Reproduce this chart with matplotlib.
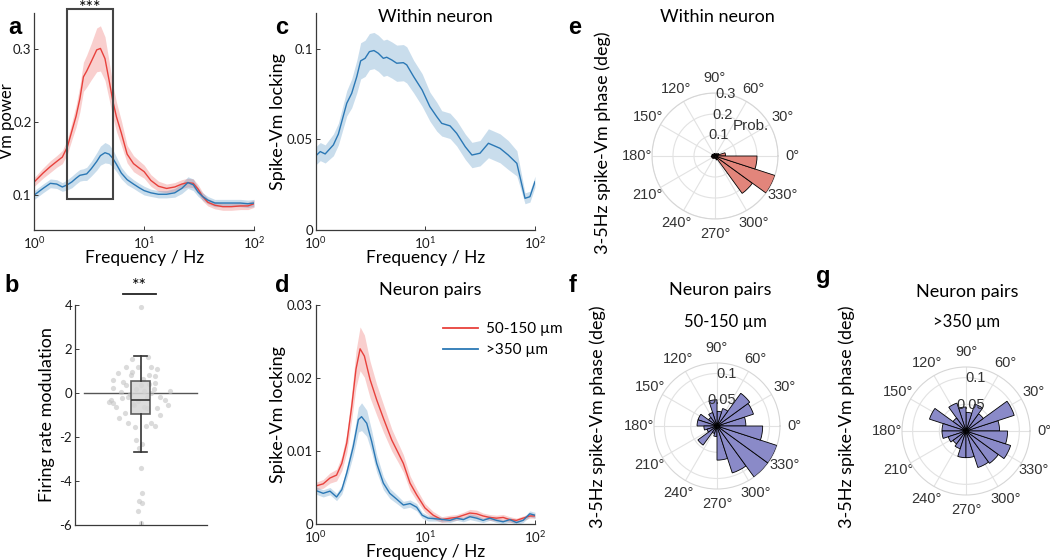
import numpy as np
import matplotlib
matplotlib.use('Agg')
import matplotlib.pyplot as plt
import matplotlib.patches as mpatches

plt.rcParams['font.family'] = ['Lato', 'DejaVu Sans']
plt.rcParams['mathtext.default'] = 'regular'
plt.rcParams['axes.unicode_minus'] = False

W, H = 1050, 560
RED = '#e8413c'
BLUE = '#2b78b5'
AX_COL = '#3a3a3a'
POLAR_RED = '#e2857b'
POLAR_BLUE = '#8a8ac8'

# ---- panel a: Vm power spectra -------------------------------------------
a_freq = [1, 1.2, 1.4, 1.6, 1.8, 2.0, 2.2, 2.4, 2.6, 2.8, 3.0, 3.3, 3.7, 4.0, 4.4,
          4.8, 5.2, 5.6, 6.2, 7.0, 8.0, 9.0, 10, 11.5, 13.5, 16, 19, 22, 25, 28,
          31, 34, 38, 44, 52, 62, 75, 88, 100]
a_red = [0.118, 0.130, 0.139, 0.146, 0.152, 0.166, 0.188, 0.208, 0.232, 0.262,
         0.270, 0.283, 0.299, 0.301, 0.287, 0.257, 0.228, 0.207, 0.185, 0.156,
         0.143, 0.137, 0.132, 0.120, 0.112, 0.109, 0.111, 0.115, 0.117, 0.116,
         0.108, 0.098, 0.090, 0.086, 0.084, 0.084, 0.085, 0.085, 0.088]
a_red_sem = [0.006, 0.007, 0.008, 0.008, 0.009, 0.010, 0.012, 0.015, 0.018, 0.020,
             0.022, 0.025, 0.030, 0.031, 0.030, 0.026, 0.022, 0.020, 0.017, 0.012,
             0.011, 0.010, 0.009, 0.008, 0.007, 0.006, 0.006, 0.006, 0.006, 0.006,
             0.006, 0.006, 0.005, 0.005, 0.005, 0.005, 0.005, 0.005, 0.005]
a_blue = [0.100, 0.109, 0.116, 0.115, 0.111, 0.114, 0.118, 0.123, 0.127, 0.128,
          0.129, 0.136, 0.146, 0.154, 0.158, 0.156, 0.150, 0.142, 0.130, 0.121,
          0.115, 0.110, 0.106, 0.103, 0.101, 0.101, 0.103, 0.109, 0.117, 0.114,
          0.104, 0.098, 0.093, 0.089, 0.089, 0.089, 0.089, 0.088, 0.089]
a_blue_sem = [0.006, 0.006, 0.006, 0.006, 0.006, 0.007, 0.008, 0.008, 0.008, 0.008,
              0.009, 0.010, 0.012, 0.013, 0.014, 0.013, 0.012, 0.010, 0.008, 0.007,
              0.006, 0.006, 0.006, 0.005, 0.005, 0.005, 0.006, 0.007, 0.008, 0.008,
              0.006, 0.005, 0.005, 0.005, 0.005, 0.005, 0.005, 0.005, 0.005]
BAND_HZ = (2.0, 5.2)

# ---- panel b: firing rate modulation -------------------------------------
b_x = [1.00, 0.86, 1.11, 0.78, 0.66, 0.86, 0.95, 1.16, 1.25, 1.22, 0.58, 0.57,
       1.22, 1.29, 1.44, 1.41, 0.54, 0.52, 0.58, 0.63, 0.71, 0.76, 0.67, 0.80,
       0.91, 1.08, 1.15, 1.22, 1.29, 1.24, 1.10, 1.05, 0.90, 0.92, 0.97, 1.02,
       1.00, 1.02, 0.97, 1.02, 0.96, 1.00, 1.00, 0.92, 1.05, 0.83, 1.10, 0.95,
       0.88, 1.13, 1.20, 0.78, 0.85, 1.13, 1.03, 0.73, 1.15, 0.80, 1.37, 0.70]
b_y = [3.92, 1.53, 1.62, 1.20, 0.92, 0.97, 1.17, 1.20, 1.08, 0.77, 0.59, 0.21,
       0.47, -0.20, 0.10, -0.55, -0.32, -0.40, -0.47, -0.62, -0.21, -0.92, -1.12, -1.35,
       -1.53, -1.50, -1.38, -1.50, -1.00, -0.70, -0.70, -0.62, -0.55, -2.14, -2.50, -2.33,
       -3.40, -4.56, -4.90, -5.00, -5.35, -5.92, 0.35, 0.20, 0.10, -0.05, -0.20, -0.35,
       -0.50, 0.40, 0.20, 0.35, 0.80, 0.80, 0.65, 0.50, 0.00, -0.20, -0.30, 0.05]
b_stats = dict(med=-0.3, q1=-0.95, q3=0.55, whislo=-2.7, whishi=1.7, fliers=[])

# ---- panel c: spike-Vm locking within neuron -----------------------------
c_freq = [1, 1.10, 1.22, 1.45, 1.61, 1.92, 2.13, 2.37, 2.57, 2.82, 3.09, 3.40, 3.72,
          4.14, 4.44, 4.94, 5.48, 6.30, 6.76, 7.82, 9.35, 11.0, 12.7, 14.1, 16.8,
          19.3, 23.1, 26.6, 31.5, 37.6, 48.0, 57.0, 68.3, 81.1, 89.9, 100]
c_mean = [0.0409, 0.0433, 0.0420, 0.0470, 0.0530, 0.0700, 0.0755, 0.0847, 0.0934,
          0.0948, 0.0985, 0.0991, 0.0976, 0.0948, 0.0954, 0.0939, 0.0921, 0.0924,
          0.0912, 0.0847, 0.0773, 0.0681, 0.0626, 0.0589, 0.0575, 0.0534, 0.0460,
          0.0414, 0.0424, 0.0479, 0.0451, 0.0414, 0.0368, 0.0175, 0.0184, 0.0267]
c_sem = [0.005, 0.005, 0.005, 0.006, 0.006, 0.007, 0.008, 0.009, 0.010, 0.010,
         0.010, 0.010, 0.010, 0.010, 0.010, 0.010, 0.010, 0.010, 0.010, 0.009,
         0.009, 0.008, 0.008, 0.007, 0.007, 0.007, 0.007, 0.007, 0.007, 0.008,
         0.008, 0.008, 0.007, 0.003, 0.003, 0.003]

# ---- panel d: spike-Vm locking, neuron pairs -----------------------------
d_freq_red = [1, 1.17, 1.35, 1.55, 1.73, 1.92, 2.13, 2.33, 2.54, 2.78, 3.13, 3.60,
              4.14, 4.94, 5.67, 6.30, 7.25, 8.33, 9.92, 11.8, 14.1, 16.8, 19.3,
              22.2, 25.5, 29.3, 33.6, 38.7, 44.5, 51.2, 58.9, 67.7, 77.9, 89.6, 100]
d_red = [0.0052, 0.0055, 0.0063, 0.0067, 0.0083, 0.0111, 0.0161, 0.0212, 0.0240,
         0.0230, 0.0198, 0.0170, 0.0145, 0.0115, 0.0097, 0.0083, 0.0056, 0.0040,
         0.0022, 0.0012, 0.0006, 0.0008, 0.0009, 0.0012, 0.0015, 0.0014, 0.0011,
         0.0009, 0.0008, 0.0009, 0.0006, 0.0005, 0.0008, 0.0011, 0.0011]
d_red_sem = [0.0005, 0.0006, 0.0007, 0.0008, 0.0010, 0.0013, 0.0018, 0.0025, 0.0030,
             0.0029, 0.0025, 0.0021, 0.0019, 0.0015, 0.0013, 0.0012, 0.0010, 0.0008,
             0.0006, 0.0005, 0.0004, 0.0004, 0.0004, 0.0004, 0.0005, 0.0005, 0.0004,
             0.0004, 0.0004, 0.0004, 0.0004, 0.0003, 0.0003, 0.0003, 0.0003]
d_freq_blue = [1, 1.17, 1.35, 1.55, 1.73, 1.92, 2.20, 2.45, 2.62, 2.92, 3.24, 3.60,
               4.14, 4.74, 5.48, 6.30, 7.25, 8.33, 9.35, 10.6, 12.7, 14.6, 16.8,
               19.3, 22.2, 25.5, 29.3, 33.6, 38.7, 44.5, 51.2, 58.9, 67.7, 77.9,
               89.6, 100]
d_blue = [0.0046, 0.0042, 0.0045, 0.0037, 0.0047, 0.0070, 0.0106, 0.0143, 0.0147,
          0.0138, 0.0113, 0.0083, 0.0056, 0.0042, 0.0034, 0.0026, 0.0028, 0.0023,
          0.0012, 0.0008, 0.0007, 0.0006, 0.0005, 0.0008, 0.0006, 0.0010, 0.0008,
          0.0005, 0.0008, 0.0005, 0.0003, 0.0006, 0.0002, 0.0005, 0.0014, 0.0012]
d_blue_sem = [0.0005, 0.0005, 0.0005, 0.0005, 0.0006, 0.0008, 0.0012, 0.0017, 0.0019,
              0.0018, 0.0015, 0.0012, 0.0009, 0.0007, 0.0006, 0.0005, 0.0005, 0.0005,
              0.0004, 0.0004, 0.0003, 0.0003, 0.0003, 0.0003, 0.0003, 0.0004, 0.0004,
              0.0003, 0.0003, 0.0003, 0.0003, 0.0003, 0.0003, 0.0003, 0.0004, 0.0004]
d_labels = ['50-150 µm', '>350 µm']

# ---- panels e-g: phase histograms, 18 deg bins starting at 0 deg ----------
BIN_DEG = 18
e_prob = [0.050, 0.020, 0.015, 0.010, 0.010, 0.012, 0.010, 0.012, 0.015, 0.015,
          0.018, 0.015, 0.015, 0.012, 0.010, 0.012, 0.020, 0.220, 0.300, 0.200]
f_prob = [0.055, 0.073, 0.077, 0.035, 0.028, 0.050, 0.027, 0.020, 0.038, 0.038,
          0.025, 0.020, 0.045, 0.015, 0.020, 0.065, 0.094, 0.120, 0.120, 0.087]
g_prob = [0.063, 0.095, 0.040, 0.053, 0.035, 0.045, 0.055, 0.030, 0.072, 0.045,
          0.045, 0.035, 0.030, 0.035, 0.050, 0.050, 0.072, 0.075, 0.088, 0.078]


def px_axes(fig, left, top, right, bottom, **kw):
    return fig.add_axes([left / W, 1 - bottom / H, (right - left) / W,
                         (bottom - top) / H], **kw)


def style_axes(ax):
    ax.spines[['top', 'right']].set_visible(False)
    for s in ['left', 'bottom']:
        ax.spines[s].set_color(AX_COL); ax.spines[s].set_linewidth(0.9)
    ax.tick_params(direction='in', length=3, width=0.7, colors=AX_COL,
                   labelsize=9.5, labelcolor='#1a1a1a')
    ax.tick_params(axis='x', pad=4)
    ax.tick_params(axis='y', pad=2)


def set_ylabel(ax, text, xfrac, size=13):
    ax.set_ylabel(text, fontsize=size)
    ax.yaxis.set_label_coords(xfrac, 0.5)
    ax.yaxis.label.set_verticalalignment('center')


def freq_axes(ax):
    ax.set_xscale('log')
    ax.set_xlim(1, 100)
    ax.xaxis.set_minor_locator(matplotlib.ticker.NullLocator())
    ax.set_xlabel('Frequency / Hz', fontsize=12.5)
    ax.xaxis.set_label_coords(0.5, -0.128)
    ax.xaxis.label.set_verticalalignment('center')
    style_axes(ax)


def band(ax, f, m, s, colour):
    m = np.array(m); s = np.array(s)
    ax.fill_between(f, m - s, m + s, color=colour, alpha=0.25, lw=0)
    ax.plot(f, m, color=colour, lw=1.0)


def panel_a(fig):
    ax = px_axes(fig, 34.3, 12.7, 254, 230)
    band(ax, a_freq, a_red, a_red_sem, RED)
    band(ax, a_freq, a_blue, a_blue_sem, BLUE)
    freq_axes(ax)
    ax.set_ylim(0.052, 0.35)
    ax.set_yticks([0.1, 0.2, 0.3])
    set_ylabel(ax, 'Vm power', -0.126, size=12)
    lo, hi = BAND_HZ
    ax.add_patch(mpatches.Rectangle((lo, 0.094), hi - lo, 0.261, fill=False,
                                    edgecolor='#444444', lw=1.5, clip_on=False, zorder=5))
    fig.text(90 / W, 1.0, '***', ha='center', va='top', fontsize=13)


def panel_b(fig):
    ax = px_axes(fig, 75, 305, 206.7, 525)
    ax.axhline(0, xmin=0.07, xmax=0.925, color='#555555', lw=1.0, zorder=1)
    ax.scatter(b_x, b_y, s=14, color='#c4c4c4', alpha=0.6, linewidths=0, zorder=2)
    ax.bxp([b_stats], positions=[1], widths=0.29, capwidths=0.2, showfliers=False,
           patch_artist=True, manage_ticks=False,
           boxprops=dict(facecolor='#d6d6d6', edgecolor='#444444', lw=1.2, alpha=0.85),
           medianprops=dict(color='#333333', lw=1.2),
           whiskerprops=dict(color='#333333', lw=1.2),
           capprops=dict(color='#333333', lw=1.2), zorder=3)
    style_axes(ax)
    ax.set_xlim(0, 2); ax.set_ylim(-6, 4)
    ax.set_xticks([1]); ax.set_xticklabels([''])
    ax.set_yticks([-6, -4, -2, 0, 2, 4])
    set_ylabel(ax, 'Firing rate modulation', -0.213)
    ax.plot([0.73, 1.23], [4.5, 4.5], color='#222222', lw=1.3, clip_on=False)
    ax.text(0.98, 4.5, '**', ha='center', va='bottom', fontsize=13, clip_on=False)


def panel_c(fig):
    ax = px_axes(fig, 315.7, 12.7, 535, 230)
    band(ax, c_freq, c_mean, c_sem, BLUE)
    freq_axes(ax)
    ax.set_ylim(0, 0.12)
    ax.set_yticks([0, 0.05, 0.1])
    ax.set_yticklabels(['0', '0.05', '0.1'])
    set_ylabel(ax, 'Spike-Vm locking', -0.172)
    fig.text(435 / W, 1 - 17 / H, 'Within neuron', ha='center', va='center', fontsize=13)


def panel_d(fig):
    ax = px_axes(fig, 315.7, 305, 535, 524)
    band(ax, d_freq_red, d_red, d_red_sem, RED)
    band(ax, d_freq_blue, d_blue, d_blue_sem, BLUE)
    freq_axes(ax)
    ax.set_ylim(0, 0.03)
    ax.set_yticks([0, 0.01, 0.02, 0.03])
    ax.set_yticklabels(['0', '0.01', '0.02', '0.03'])
    set_ylabel(ax, 'Spike-Vm locking', -0.172)
    h = [plt.Line2D([], [], color=RED, lw=1.3), plt.Line2D([], [], color=BLUE, lw=1.3)]
    ax.legend(h, d_labels, frameon=False, loc='upper left', fontsize=11,
              bbox_to_anchor=(443 / W, 1 - 322 / H), bbox_transform=fig.transFigure,
              borderpad=0, borderaxespad=0, handlelength=2.3, handletextpad=0.5,
              labelspacing=0.45)
    fig.text(430 / W, 1 - 290 / H, 'Neuron pairs', ha='center', va='center', fontsize=13)


def polar_panel(fig, cx, cy, r, probs, colour, rmax, rticks, rlabels):
    ax = fig.add_axes([(cx - r) / W, 1 - (cy + r) / H, 2 * r / W, 2 * r / H],
                      projection='polar')
    starts = np.deg2rad(np.arange(len(probs)) * BIN_DEG)
    ax.bar(starts, probs, width=np.deg2rad(BIN_DEG), align='edge', color=colour,
           edgecolor='black', linewidth=0.6, zorder=3)
    ax.set_ylim(0, rmax)
    ax.set_yticks(rticks); ax.set_yticklabels([])
    angles = list(range(0, 360, 30))
    ax.set_thetagrids(angles, [f'{a}°' for a in angles], fontsize=10.5,
                      color='#333333', family='Liberation Sans')
    ax.tick_params(axis='x', pad=0)
    ax.grid(color='#e2e2e2', lw=0.8)
    ax.spines['polar'].set_color('#d6d6d6')
    for rt, lbl in zip(rticks, rlabels):
        ax.text(np.deg2rad(80), rt, lbl, ha='center', va='center', fontsize=10.5,
                color='#333333', family='Liberation Sans', zorder=5)
    return ax


def panels_efg(fig):
    ax = polar_panel(fig, 715, 156, 63, e_prob, POLAR_RED, 0.3, [0.1, 0.2, 0.3],
                     ['0.1', '0.2', '0.3'])
    ax.text(np.deg2rad(40), 0.22, 'Prob.', ha='center', va='center', fontsize=11,
            color='#333333', family='Liberation Sans', zorder=5)
    polar_panel(fig, 717, 426, 63, f_prob, POLAR_BLUE, 0.12, [0.05, 0.1], ['0.05', '0.1'])
    polar_panel(fig, 966, 431, 64, g_prob, POLAR_BLUE, 0.12, [0.05, 0.1], ['0.05', '0.1'])

    ylab = '3-5Hz spike-Vm phase (deg)'
    for x, y in [(603, 143), (598, 417), (847, 417)]:
        fig.text(x / W, 1 - y / H, ylab, rotation=90, ha='center', va='center', fontsize=13)
    fig.text(717 / W, 1 - 17 / H, 'Within neuron', ha='center', va='center', fontsize=13)
    fig.text(720 / W, 1 - 290 / H, 'Neuron pairs', ha='center', va='center', fontsize=13)
    fig.text(725 / W, 1 - 322 / H, '50-150 µm', ha='center', va='center', fontsize=12)
    fig.text(967 / W, 1 - 292 / H, 'Neuron pairs', ha='center', va='center', fontsize=13)
    fig.text(967 / W, 1 - 322 / H, '>350 µm', ha='center', va='center', fontsize=12)


def main():
    fig = plt.figure(figsize=(W / 100, H / 100), dpi=100)
    panel_a(fig)
    panel_b(fig)
    panel_c(fig)
    panel_d(fig)
    panels_efg(fig)
    for lbl, x, y in [('a', 15, 27), ('b', 12, 285), ('c', 282, 28), ('d', 282, 285),
                      ('e', 575, 28), ('f', 573, 285), ('g', 823, 277)]:
        fig.text(x / W, 1 - y / H, lbl, ha='center', va='center', fontsize=17,
                 fontweight='bold', family='Liberation Sans')
    fig.savefig('out.png', dpi=100)
    plt.close()


if __name__ == '__main__':
    main()
